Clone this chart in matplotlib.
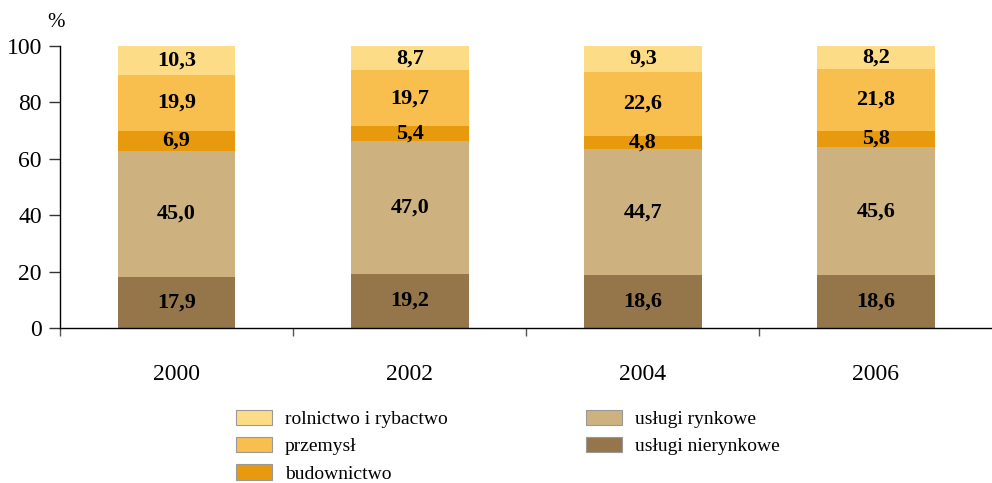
import numpy as np
import matplotlib.pyplot as plt

plt.rcParams['font.family'] = ['Liberation Serif', 'DejaVu Serif']

years = ['2000', '2002', '2004', '2006']
uslugi_nierynkowe = [17.9, 19.2, 18.6, 18.6]
uslugi_rynkowe = [45.0, 47.0, 44.7, 45.6]
budownictwo = [6.9, 5.4, 4.8, 5.8]
przemysl = [19.9, 19.7, 22.6, 21.8]
rolnictwo = [10.3, 8.7, 9.3, 8.2]

series = [
    ('usługi nierynkowe', uslugi_nierynkowe, '#94764A'),
    ('usługi rynkowe', uslugi_rynkowe, '#CDB27F'),
    ('budownictwo', budownictwo, '#E89A0E'),
    ('przemysł', przemysl, '#F8BF4E'),
    ('rolnictwo i rybactwo', rolnictwo, '#FDDC88'),
]

fig = plt.figure(figsize=(9.92, 4.83), dpi=100)
ax = fig.add_axes([0.0605, 0.321, 0.94, 0.584])

x = np.arange(len(years))
bottom = np.zeros(len(years))
handles = {}
for name, vals, col in series:
    vals = np.array(vals)
    b = ax.bar(x, vals, 0.505, bottom=bottom, color=col, linewidth=0)
    handles[name] = b
    for xi, bo, v in zip(x, bottom, vals):
        ax.text(xi, bo + v / 2, f'{v:.1f}'.replace('.', ','), ha='center', va='center',
                fontsize=16, fontweight='bold', color='black')
    bottom += vals

ax.set_xlim(-0.5, 3.5)
ax.set_ylim(0, 100)
ax.set_yticks([0, 20, 40, 60, 80, 100])
ax.tick_params(axis='y', labelsize=17, length=8, width=1, direction='out', pad=5, color='#333333')
ax.set_xticks(x)
ax.set_xticklabels(years)
ax.set_xticks([-0.5, 0.5, 1.5, 2.5], minor=True)
ax.tick_params(axis='x', which='major', length=0, labelsize=17, pad=26)
ax.tick_params(axis='x', which='minor', length=6, width=1, direction='out', color='#555555')
for s in ['top', 'right']:
    ax.spines[s].set_visible(False)
ax.spines['left'].set_linewidth(1)
ax.spines['bottom'].set_linewidth(1)
ax.text(-0.014, 1.05, '%', transform=ax.transAxes, fontsize=15, ha='left', va='bottom')

order = ['rolnictwo i rybactwo', 'przemysł', 'budownictwo', 'usługi rynkowe', 'usługi nierynkowe']
leg = fig.legend([handles[n] for n in order], order, loc='upper left',
                 bbox_to_anchor=(0.238, 0.152), ncol=2, frameon=False, fontsize=14,
                 handlelength=1.85, handleheight=0.85, columnspacing=7.1, labelspacing=0.45,
                 borderaxespad=0, borderpad=0, handletextpad=0.67)
for p in leg.get_patches():
    p.set_edgecolor('#999999')
    p.set_linewidth(0.8)

fig.savefig('out.png', dpi=100)
